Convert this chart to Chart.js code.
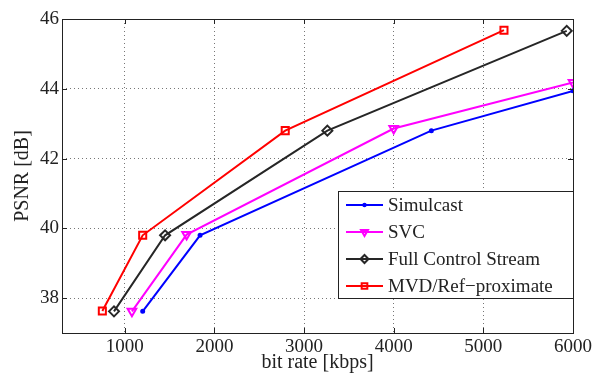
<!DOCTYPE html>
<html>
<head>
<meta charset="utf-8">
<script src="https://cdn.jsdelivr.net/npm/chart.js@4/dist/chart.umd.min.js"></script>
<style>
html, body { margin: 0; padding: 0; background: #fff; }
#wrap { width: 595px; height: 376px; }
</style>
</head>
<body>
<div id="wrap"><canvas id="psnr-chart"></canvas></div>
<script>
// values
const seriesNames = ['Simulcast', 'SVC', 'Full Control Stream', 'MVD/Ref\u2212proximate']
const simulcastRate = [1200, 1840, 4420, 6000]
const simulcastPsnr = [37.62, 39.8, 42.8, 43.94]
const svcRate = [1080, 1690, 4000, 6000]
const svcPsnr = [37.62, 39.82, 42.86, 44.18]
const fullRate = [880, 1450, 3260, 5930]
const fullPsnr = [37.62, 39.8, 42.8, 45.66]
const mvdRate = [750, 1200, 2790, 5230]
const mvdPsnr = [37.63, 39.8, 42.8, 45.68]
const xTicks = [1000, 2000, 3000, 4000, 5000, 6000]
const yTicks = [38, 40, 42, 44, 46]

const serif = "'Liberation Serif', 'Times New Roman', serif"

function toPoints(xs, ys) {
    return xs.map((x, i) => ({x: x, y: ys[i]}))
}

function makeSet(label, xs, ys, color, style, radius, rotation) {
    return {
        label: label,
        data: toPoints(xs, ys),
        showLine: true,
        borderColor: color,
        backgroundColor: color,
        borderWidth: 2,
        pointStyle: style,
        pointRadius: radius,
        pointRotation: rotation,
        pointBorderColor: color,
        pointBackgroundColor: style === 'circle' ? color : 'rgba(0,0,0,0)',
        pointBorderWidth: 2,
        tension: 0
    }
}

// box + inward ticks, matlab style
const boxPlugin = {
    id: 'box',
    afterDraw(chart) {
        const {ctx, chartArea: a, scales} = chart
        ctx.save()
        ctx.strokeStyle = '#222'
        ctx.lineWidth = 1
        ctx.strokeRect(a.left + 0.5, a.top + 0.5, a.right - a.left, a.bottom - a.top)
        ctx.beginPath()
        xTicks.forEach(v => {
            const x = Math.round(scales.x.getPixelForValue(v)) + 0.5
            ctx.moveTo(x, a.bottom); ctx.lineTo(x, a.bottom - 5)
            ctx.moveTo(x, a.top); ctx.lineTo(x, a.top + 5)
        })
        yTicks.forEach(v => {
            const y = Math.round(scales.y.getPixelForValue(v)) + 0.5
            ctx.moveTo(a.left, y); ctx.lineTo(a.left + 5, y)
            ctx.moveTo(a.right, y); ctx.lineTo(a.right - 5, y)
        })
        ctx.stroke()
        ctx.restore()
    }
}

// legend box inside the plot, bottom right
const legendPlugin = {
    id: 'boxLegend',
    afterDraw(chart) {
        const ctx = chart.ctx
        const a = chart.chartArea
        const bx = 338, by = 191, bw = a.right - 338, bh = 107
        ctx.save()
        ctx.fillStyle = '#fff'
        ctx.fillRect(bx, by, bw, bh)
        ctx.strokeStyle = '#222'
        ctx.lineWidth = 1
        ctx.strokeRect(bx + 0.5, by + 0.5, bw, bh)
        ctx.font = '19px ' + serif
        ctx.textBaseline = 'middle'
        chart.data.datasets.forEach((ds, i) => {
            const y = 205 + i * 27
            ctx.strokeStyle = ds.borderColor
            ctx.lineWidth = 2
            ctx.beginPath()
            ctx.moveTo(346, y); ctx.lineTo(383, y)
            ctx.stroke()
            ctx.fillStyle = ds.pointBackgroundColor
            Chart.helpers.drawPoint(ctx, {
                pointStyle: ds.pointStyle,
                radius: ds.pointRadius * 0.8,
                rotation: ds.pointRotation,
                borderWidth: 2
            }, 364.5, y)
            ctx.fillStyle = '#222'
            ctx.fillText(ds.label, 388, y + 1)
        })
        ctx.restore()
    }
}

const canvas = document.querySelector('#psnr-chart')
const chart = new Chart(canvas.getContext('2d'), {
    type: 'scatter',
    data: {
        datasets: [
            makeSet(seriesNames[0], simulcastRate, simulcastPsnr, '#0000ff', 'circle', 1.5, 0),
            makeSet(seriesNames[1], svcRate, svcPsnr, '#ff00ff', 'triangle', 5, 180),
            makeSet(seriesNames[2], fullRate, fullPsnr, '#262626', 'rectRot', 5, 0),
            makeSet(seriesNames[3], mvdRate, mvdPsnr, '#ff0000', 'rect', 5, 0)
        ]
    },
    options: {
        responsive: true,
        maintainAspectRatio: false,
        animation: false,
        layout: {padding: {top: 19, right: 20, left: 0, bottom: 0}},
        plugins: {legend: {display: false}, tooltip: {enabled: false}},
        scales: {
            x: {
                type: 'linear',
                min: 300,
                max: 6000,
                afterBuildTicks: s => { s.ticks = xTicks.map(v => ({value: v})) },
                afterFit: s => { s.height = 43 },
                grid: {color: '#777', lineWidth: 1, drawTicks: false},
                border: {display: false, dash: [1, 3]},
                ticks: {color: '#222', font: {family: serif, size: 19}, padding: 3, maxRotation: 0,
                        callback: v => String(v)},
                title: {display: true, text: 'bit rate [kbps]', color: '#222',
                        font: {family: serif, size: 20, lineHeight: 1.2}, padding: {top: 0, bottom: 1}}
            },
            y: {
                type: 'linear',
                min: 37,
                max: 46,
                afterBuildTicks: s => { s.ticks = yTicks.map(v => ({value: v})) },
                afterFit: s => { s.width = 62 },
                grid: {color: '#777', lineWidth: 1, drawTicks: false},
                border: {display: false, dash: [1, 3]},
                ticks: {color: '#222', font: {family: serif, size: 19}, padding: 3,
                        callback: v => String(v)},
                title: {display: true, text: 'PSNR [dB]', color: '#222',
                        font: {family: serif, size: 20, lineHeight: 1.2}, padding: {top: 11, bottom: 0}}
            }
        }
    },
    plugins: [boxPlugin, legendPlugin]
})
</script>
</body>
</html>
